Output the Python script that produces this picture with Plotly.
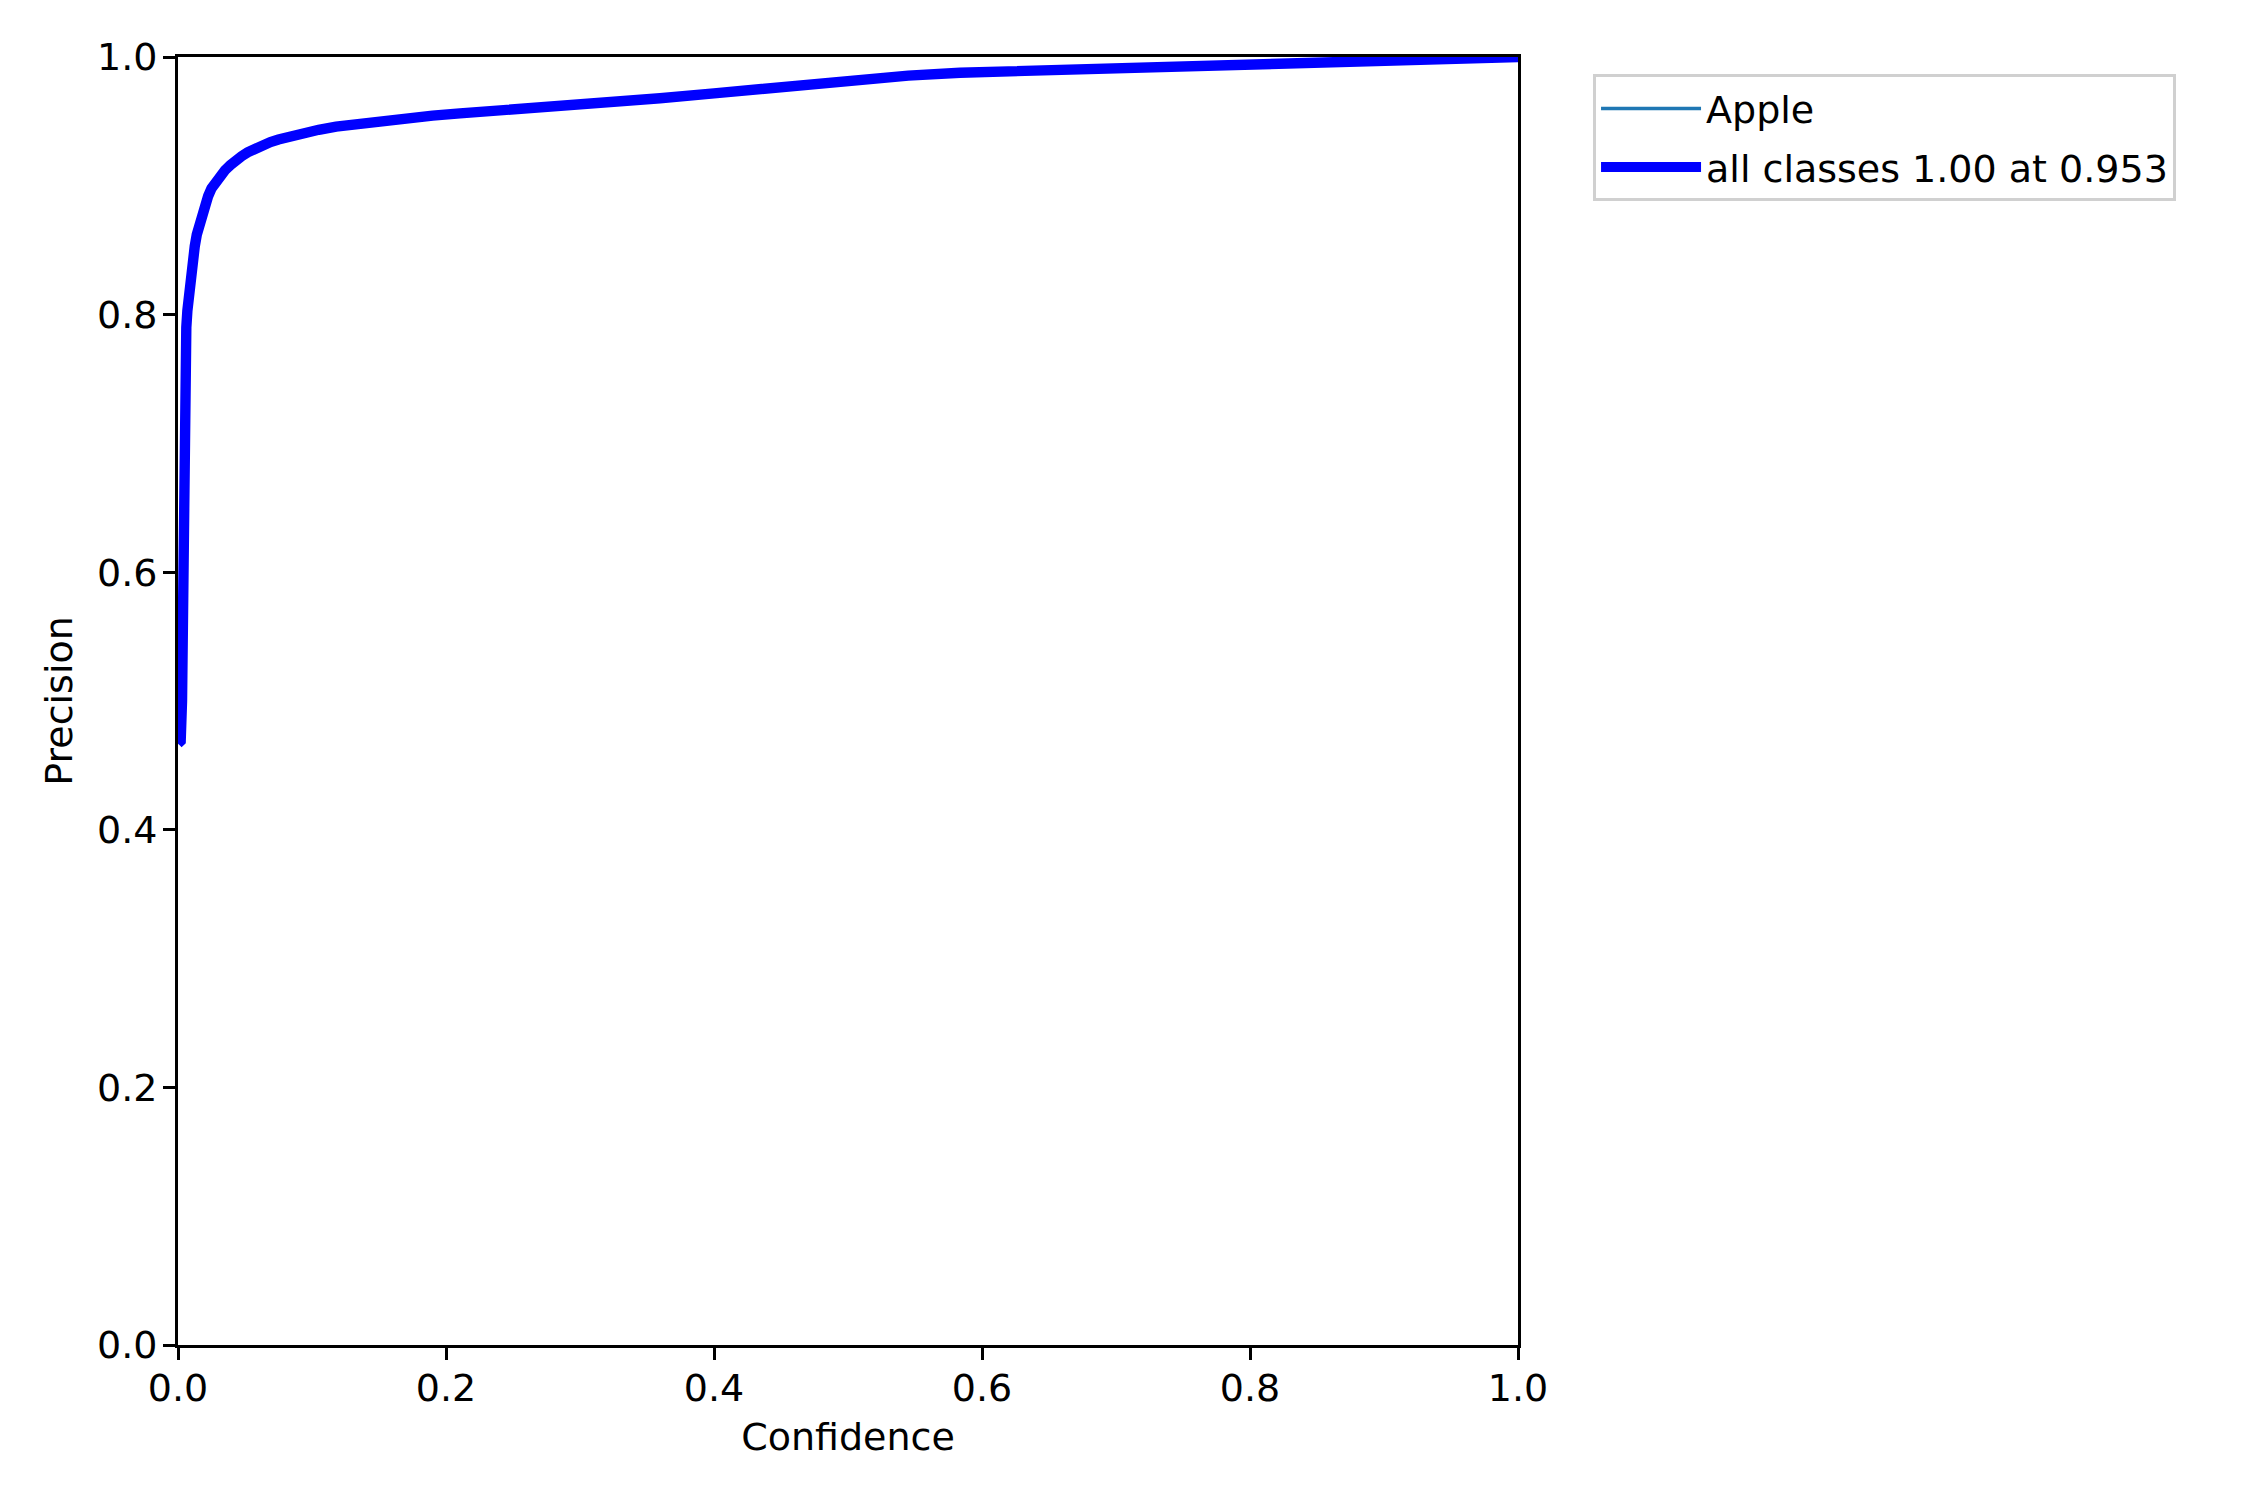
import plotly.graph_objects as go

# Confidence (x) and precision (y)
confidence = [0.0, 0.002, 0.003, 0.0037, 0.0045, 0.0055, 0.0062, 0.007, 0.008, 0.009,
              0.010, 0.011, 0.0125, 0.014, 0.016, 0.018, 0.020, 0.0225, 0.025, 0.028,
              0.0315, 0.035, 0.039, 0.043, 0.0475, 0.052, 0.057, 0.063, 0.069, 0.075,
              0.082, 0.0935, 0.105, 0.118, 0.14, 0.168, 0.19, 0.2104, 0.25, 0.285,
              0.32, 0.3597, 0.40, 0.434, 0.47, 0.509, 0.545, 0.5836, 0.62, 0.658,
              0.695, 0.733, 0.77, 0.807, 0.845, 0.882, 0.92, 0.938, 0.953, 1.0]
precision = [0.467, 0.469, 0.50, 0.656, 0.734, 0.772, 0.790, 0.803, 0.815, 0.825,
             0.834, 0.842, 0.853, 0.862, 0.871, 0.878, 0.885, 0.892, 0.898, 0.903,
             0.908, 0.912, 0.916, 0.920, 0.923, 0.926, 0.929, 0.9315, 0.934, 0.936,
             0.938, 0.941, 0.9435, 0.946, 0.949, 0.952, 0.9545, 0.9562, 0.959, 0.962,
             0.965, 0.968, 0.9718, 0.9752, 0.979, 0.9827, 0.9855, 0.9878, 0.989, 0.990,
             0.9916, 0.9932, 0.9942, 0.9951, 0.996, 0.9969, 0.9977, 0.9982, 1.0, 1.0]

class_name = "Apple"
all_label = "all classes 1.00 at 0.953"
tick_vals = [0.0, 0.2, 0.4, 0.6, 0.8, 1.0]
tick_text = ["0.0", "0.2", "0.4", "0.6", "0.8", "1.0"]

FONT = "DejaVu Sans"
FS = 38

fig = go.Figure()
fig.add_trace(go.Scatter(x=confidence, y=precision, mode="lines", name=class_name,
                         legendgroup="a",
                         line=dict(color="#1f77b4", width=3.5)))
fig.add_trace(go.Scatter(x=confidence, y=precision, mode="lines", name=all_label,
                         legendgroup="b",
                         line=dict(color="#0000ff", width=10.4)))

axis_common = dict(
    range=[0, 1], showgrid=False, zeroline=False,
    showline=True, mirror=True, linecolor="black", linewidth=2.8,
    ticks="outside", ticklen=12, tickwidth=2.8, tickcolor="black",
    tickvals=tick_vals, ticktext=tick_text,
    tickfont=dict(family=FONT, size=FS, color="black"),
)

fig.update_layout(
    width=2250, height=1500,
    margin=dict(l=170, r=740, t=49, b=163, autoexpand=False),
    paper_bgcolor="white", plot_bgcolor="white",
    font=dict(family=FONT, size=FS, color="black"),
    xaxis=dict(**axis_common, ticklabelstandoff=-5,
               title=dict(text="Confidence", font=dict(family=FONT, size=FS), standoff=15)),
    yaxis=dict(**axis_common, ticklabelstandoff=-2,
               title=dict(text="Precision", font=dict(family=FONT, size=FS), standoff=13)),
    legend=dict(x=1.056, y=0.9865, xanchor="left", yanchor="top",
                bgcolor="white", bordercolor="#d0d0d0", borderwidth=3,
                font=dict(family=FONT, size=FS, color="black"),
                tracegroupgap=6, itemwidth=100),
    showlegend=True,
)

fig.write_html("out.html")
